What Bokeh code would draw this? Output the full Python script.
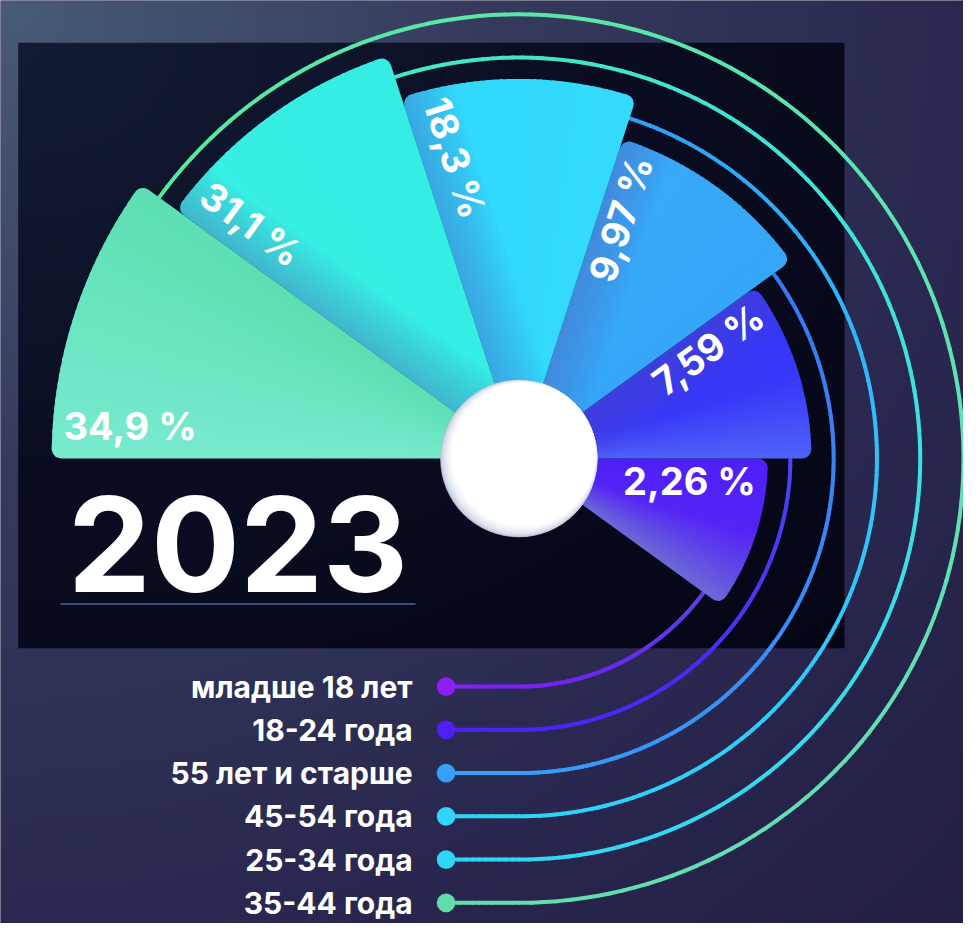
import numpy as np
from math import radians, sin, cos, asin, sqrt
from bokeh.plotting import figure
from bokeh.models import Range1d, ColumnDataSource
from bokeh.core.properties import value
from bokeh.embed import file_html
from bokeh.resources import INLINE

# ---------------- data ----------------
age_groups = ["35-44 года", "25-34 года", "45-54 года", "55 лет и старше", "18-24 года", "младше 18 лет"]
shares = [34.9, 31.1, 18.3, 9.97, 7.59, 2.26]
year = "2023"

share_labels = [str(v).replace(".", ",") + " %" for v in shares]

# ---------------- styles ----------------
wedge_stops = [
    [(0.0, "#78eace"), (1.0, "#5cdfb3")],
    [(0.0, "#37efe2"), (1.0, "#35eee3")],
    [(0.0, "#30d8fd"), (1.0, "#33dafc")],
    [(0.0, "#38aaf8"), (1.0, "#35a6f8")],
    [(0.0, "#3434f6"), (0.55, "#3838f8"), (1.0, "#4f62f8")],
    [(0.0, "#4f1ff8"), (0.5, "#5424f6"), (1.0, "#6c6ad6")],
]
arc_stops = [
    [(0.0, "#57e99f"), (0.5, "#5ce3b2"), (1.0, "#66dcad")],
    [(0.0, "#43e6c4"), (0.5, "#3ee0e0"), (1.0, "#2fd5f8")],
    [(0.0, "#2f9ef6"), (0.5, "#30c6f8"), (1.0, "#2fd6f8")],
    [(0.0, "#3a76ef"), (0.5, "#3a8cf5"), (1.0, "#34a2f7")],
    [(0.0, "#4a44ef"), (0.5, "#4a2af5"), (1.0, "#4d21f6")],
    [(0.0, "#5a40e0"), (0.5, "#6a26f2"), (1.0, "#8a1ff3")],
]
dot_colors = ["#63dbad", "#2fd6f8", "#2fd6f8", "#34a0f8", "#4f20f5", "#8b1ff5"]
FONT = value("Inter")

# ---------------- layout ----------------
START_DEG = 180.0
SPAN_DEG = 36.0
R0, R_STEP = 475.0, 44.4          # wedge outer radius by rank
A0, A_STEP = 452.0, 44.0          # connector arc radius by rank
RC = 10.0                          # corner rounding
DOT_X, LEG_X = -74.0, -108.0


def hex2rgb(h):
    return np.array([int(h[k:k + 2], 16) for k in (1, 3, 5)], dtype=float)


def rgb2hex(c):
    return "#%02x%02x%02x" % tuple(int(round(min(255, max(0, v)))) for v in c)


def interp(stops, f):
    for (f0, c0), (f1, c1) in zip(stops[:-1], stops[1:]):
        if f <= f1:
            t = 0 if f1 == f0 else (f - f0) / (f1 - f0)
            return rgb2hex(hex2rgb(c0) * (1 - t) + hex2rgb(c1) * t)
    return stops[-1][1]


def r_outer(th, a_hi, a_lo, R, rc):
    d = R - rc
    dl = asin(rc / d)
    if th > a_hi - dl:
        pc = a_hi - dl
    elif th < a_lo + dl:
        pc = a_lo + dl
    else:
        return R
    t = th - pc
    return d * cos(t) + sqrt(max(rc * rc - (d * sin(t)) ** 2, 0.0))


YB, YT = -473, 466
p = figure(width=963, height=923, x_range=Range1d(-527, 452), y_range=Range1d(YB, YT),
           output_backend="svg", toolbar_location=None, x_axis_location=None,
           y_axis_location=None, min_border=0, title=None)
p.grid.visible = False
p.outline_line_color = None
p.background_fill_color = "#2a2850"
p.border_fill_color = "#2a2850"


def gradient_image(w, h, stops, step=4):
    nx, ny = w // step + 1, h // step + 1
    xx, yy = np.meshgrid(np.linspace(0, 1, nx), np.linspace(0, 1, ny))
    t = np.sqrt(xx ** 2 + yy ** 2) / np.sqrt(2)
    fs = [s[0] for s in stops]
    cols = np.array([hex2rgb(s[1]) for s in stops])
    img = np.empty((ny, nx, 4), dtype=np.uint8)
    for k in range(3):
        img[..., k] = np.interp(t, fs, cols[:, k]).round().astype(np.uint8)
    img[..., 3] = 255
    img = img[::-1].copy()
    return img.view(dtype=np.uint32).reshape((ny, nx))


bg = gradient_image(979, 939, [(0, "#485b76"), (0.35, "#363b5d"), (0.53, "#2e3256"),
                               (0.71, "#2a2850"), (1.0, "#221e44")])
p.image_rgba(image=[bg], x=-527, y=YB, dw=979, dh=YT - YB)
panel = gradient_image(840, 616, [(0, "#131c34"), (0.5, "#0a0d22"), (1.0, "#050515")])
p.image_rgba(image=[panel], x=-509, y=-193, dw=840, dh=616)

# ---------------- connector arcs + legend ----------------
seg_xs, seg_ys, seg_c = [], [], []
for i in range(len(shares)):
    r = A0 - A_STEP * i
    a_start = radians(START_DEG - SPAN_DEG * (i + 1))
    th = np.linspace(a_start, radians(-90), 140)
    px = list(r * np.cos(th)) + list(np.linspace(0, DOT_X, 12)[1:])
    py = list(r * np.sin(th)) + [-r] * 11
    px, py = np.array(px), np.array(py)
    s = np.concatenate([[0], np.cumsum(np.hypot(np.diff(px), np.diff(py)))])
    s /= s[-1]
    for k in range(len(px) - 1):
        seg_xs.append([px[k], px[k + 1]])
        seg_ys.append([py[k], py[k + 1]])
        seg_c.append(interp(arc_stops[i], 0.5 * (s[k] + s[k + 1])))
p.multi_line(xs="xs", ys="ys", line_color="c", line_width=4, line_cap="round",
             source=ColumnDataSource(dict(xs=seg_xs, ys=seg_ys, c=seg_c)))

leg_y = [-(A0 - A_STEP * i) for i in range(len(shares))]
p.circle(x=[DOT_X] * len(shares), y=leg_y, radius=9.5, fill_color=dot_colors, line_color=None)
p.text(x=[LEG_X] * len(shares), y=leg_y, text=age_groups, text_font=FONT,
       text_font_style="bold", text_font_size=value("30px"), text_color="#ffffff",
       text_align="right", text_baseline="middle")

# ---------------- wedges ----------------
P = dict(xs=[], ys=[], fc=[], fa=[])
N_SL = 36
for i in reversed(range(len(shares))):
    R = R0 - R_STEP * i
    a_hi = radians(START_DEG - SPAN_DEG * i)
    a_lo = radians(START_DEG - SPAN_DEG * (i + 1))
    step = (a_hi - a_lo) / N_SL
    for k in range(N_SL):
        t1 = a_hi - k * step
        t2 = max(a_lo, a_hi - (k + 1.6) * step)   # overlap into the next slice
        th = np.linspace(t1, t2, 12)
        rr = np.array([r_outer(t, a_hi, a_lo, R, RC) for t in th])
        P["xs"].append([0.0] + list(rr * np.cos(th)))
        P["ys"].append([0.0] + list(rr * np.sin(th)))
        P["fc"].append(interp(wedge_stops[i], (k + 0.5) / N_SL)); P["fa"].append(1.0)
    if 1 <= i <= 4:
        th = np.linspace(a_hi, a_lo, 260)
        for w in np.linspace(4, 52, 10):
            rr = []
            for t in th:
                ro = r_outer(t, a_hi, a_lo, R, RC)
                ph = a_hi - t
                rr.append(ro if ph <= 0 else min(ro, w / sin(ph)))
            rr = np.array(rr)
            P["xs"].append([0.0] + list(rr * np.cos(th)))
            P["ys"].append([0.0] + list(rr * np.sin(th)))
            P["fc"].append("#6464be"); P["fa"].append(0.045)
p.patches(xs="xs", ys="ys", fill_color="fc", fill_alpha="fa", line_color=None,
          source=ColumnDataSource(P))

# ---------------- centre ball ----------------
cx, cy, cr, cc = [0.0], [0.0], [80.0], ["#aeb8d2"]
NB = 18
for k in range(1, NB + 1):
    f = k / NB
    cx.append(5.0 * f); cy.append(4.0 * f); cr.append(80 - 7 * f)
    cc.append(interp([(0, "#aeb8d2"), (1, "#ffffff")], f ** 0.45))
p.circle(x=cx, y=cy, radius=cr, fill_color=cc, line_color=None)

# ---------------- share labels ----------------
PAD, D_L, D_R = 12.0, 33.0, 23.0
L = dict(x=[], y=[], t=[], a=[])
Rr = dict(x=[], y=[], t=[], a=[])
for i, lab in enumerate(share_labels):
    R = R0 - R_STEP * i
    a = radians(START_DEG - SPAN_DEG * i)
    ux, uy = cos(a), sin(a)
    nx, ny = sin(a), -cos(a)
    left = (START_DEG - SPAN_DEG * i) > 90
    d = D_L if left else D_R
    bx, by = (R - PAD) * ux + d * nx, (R - PAD) * uy + d * ny
    tgt = L if left else Rr
    tgt["x"].append(bx); tgt["y"].append(by); tgt["t"].append(lab)
    tgt["a"].append(a - np.pi if left else a)
for src, al in ((L, "left"), (Rr, "right")):
    p.text(x="x", y="y", text="t", angle="a", source=ColumnDataSource(src), text_font=FONT,
           text_font_style="bold", text_font_size=value("38px"), text_color="#ffffff",
           text_align=al, text_baseline="middle")

# ---------------- year ----------------
p.text(x=[-285.5], y=[-87], text=[year], text_font=FONT, text_font_style="bold",
       text_font_size=value("132px"), text_color="#ffffff", text_align="center",
       text_baseline="middle")
p.segment(x0=[-466], y0=[-148], x1=[-105], y1=[-148], line_color="#4a6596", line_width=1.5)

open("out.html", "w").write(file_html(p, INLINE))
